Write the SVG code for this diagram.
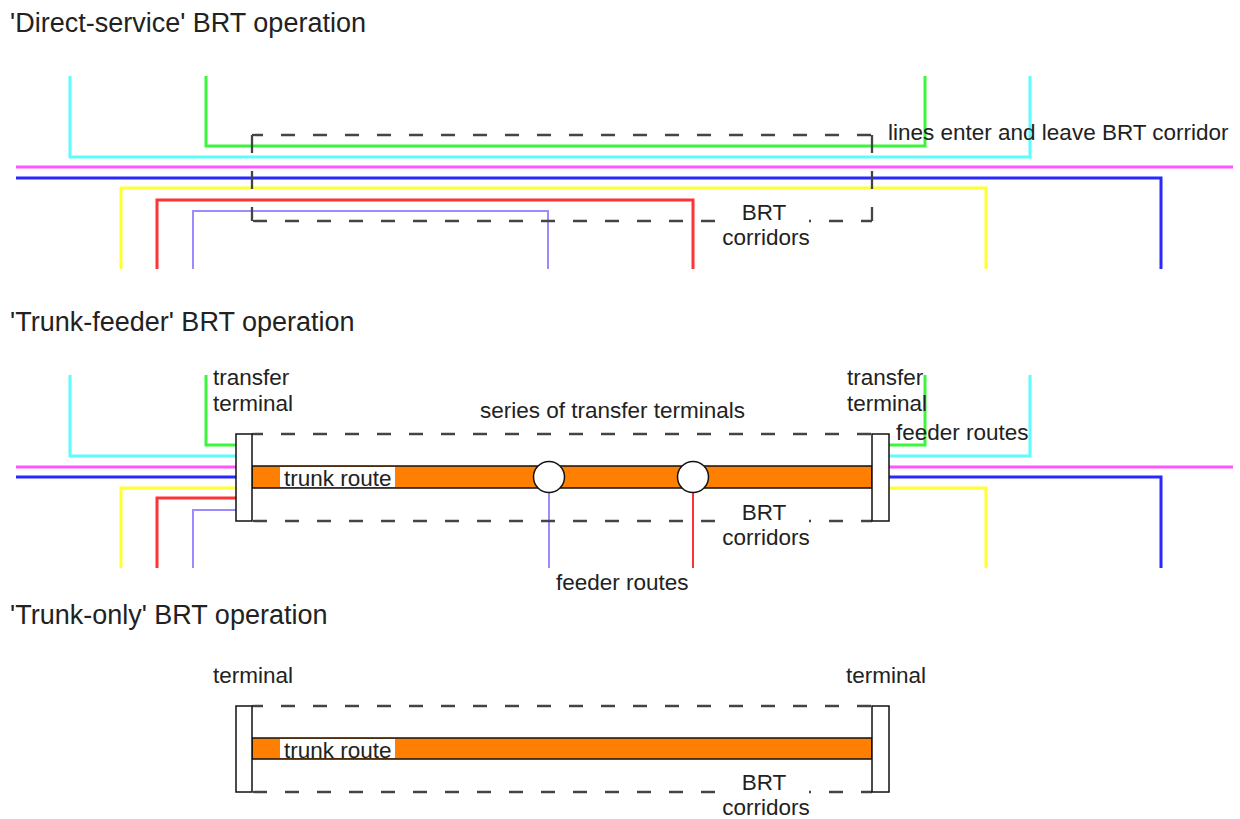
<svg xmlns="http://www.w3.org/2000/svg" width="1240" height="819" viewBox="0 0 1240 819">
<style>
text{font-family:"Liberation Sans",Arial,sans-serif;fill:#222}
.title{font-size:27px}
.lbl{font-size:22.5px}
.mid{text-anchor:middle}
.ln{fill:none;stroke-width:3;stroke-linejoin:miter;stroke-linecap:butt}
.cy{stroke:#5ffcfc}
.gr{stroke:#3cf53c}
.mg{stroke:#ff55ff}
.bl{stroke:#2828ff}
.ye{stroke:#ffff33}
.rd{stroke:#ff3333}
.pu{stroke:#9a8cff;stroke-width:2}
.dash{fill:none;stroke:#444;stroke-width:2.3;stroke-dasharray:14 18}
.trunk{fill:#ff8000;stroke:#111;stroke-width:1.5}
.term{fill:#fff;stroke:#111;stroke-width:1.5}
.stop{fill:#fff;stroke:#111;stroke-width:1.5}
.bg{fill:#fff}
</style>

<!-- Section 1: Direct-service -->
<text class="title" x="10" y="32">'Direct-service' BRT operation</text>
<g id="connectors">
  <g id="s1-lines">
    <path class="ln cy" d="M70,76 V157 H1030 V76"/>
    <path class="ln gr" d="M206,76 V146 H925 V76"/>
    <path class="ln mg" d="M16,167 H1233"/>
    <path class="ln bl" d="M16,178 H1161 V269"/>
    <path class="ln ye" d="M121,269 V188 H986 V269"/>
    <path class="ln rd" d="M157,269 V200 H693 V269"/>
    <path class="ln pu" d="M193,269 V211 H548 V269"/>
  </g>
  <g id="s2-lines">
    <path class="ln cy" d="M70,375 V456 H236"/>
    <path class="ln gr" d="M206,375 V445 H236"/>
    <path class="ln mg" d="M16,467 H236"/>
    <path class="ln bl" d="M16,477 H236"/>
    <path class="ln ye" d="M121,568 V488 H236"/>
    <path class="ln rd" d="M157,568 V498 H236"/>
    <path class="ln pu" d="M193,568 V510 H236"/>
    <path class="ln gr" d="M889,445 H925 V375"/>
    <path class="ln cy" d="M889,456 H1030 V375"/>
    <path class="ln mg" d="M889,467 H1233"/>
    <path class="ln bl" d="M889,477 H1161 V568"/>
    <path class="ln ye" d="M889,488 H986 V568"/>
    <path class="ln pu" d="M549,477 V568"/>
    <path class="ln rd" d="M693,477 V568" style="stroke-width:2"/>
  </g>
</g>

<g id="s1-corridor">
  <path class="dash" d="M252,135 H872" stroke-dashoffset="3"/>
  <path class="dash" d="M252,221 H872" stroke-dashoffset="-1"/>
  <path class="dash" d="M252,135 V221" style="stroke-dasharray:18 18"/>
  <path class="dash" d="M872,135 V221" style="stroke-dasharray:18 18"/>
  <rect class="bg" x="729" y="214" width="80" height="12"/>
  <text class="lbl mid" x="764" y="220">BRT</text>
  <text class="lbl mid" x="766" y="245">corridors</text>
</g>
<text id="s1-note" class="lbl" x="888" y="140">lines enter and leave BRT corridor</text>

<!-- Section 2: Trunk-feeder -->
<text class="title" x="10" y="331">'Trunk-feeder' BRT operation</text>
<g id="s2-corridor">
  <path class="dash" d="M252,434 H872" stroke-dashoffset="3"/>
  <path class="dash" d="M252,521 H872" stroke-dashoffset="-1"/>
  <rect class="bg" x="729" y="514" width="80" height="12"/>
  <text class="lbl mid" x="764" y="520">BRT</text>
  <text class="lbl mid" x="766" y="545">corridors</text>
  <text class="lbl" x="480" y="418">series of transfer terminals</text>
</g>
<g id="s2-trunk">
  <rect class="trunk" x="252" y="466" width="620" height="22"/>
  <rect class="bg" x="280" y="467" width="115" height="20"/>
  <text class="lbl" x="284" y="486">trunk route</text>
</g>
<g id="s2-stop1"><circle class="stop" cx="549" cy="477" r="15.5"/></g>
<g id="s2-stop2"><circle class="stop" cx="693" cy="477" r="15.5"/></g>
<g id="s2-term-left">
  <rect class="term" x="236" y="434" width="16" height="87"/>
  <text class="lbl" x="213" y="385">transfer</text>
  <text class="lbl" x="213" y="411">terminal</text>
</g>
<g id="s2-term-right">
  <rect class="term" x="872" y="434" width="17" height="87"/>
  <text class="lbl" x="847" y="385">transfer</text>
  <text class="lbl" x="847" y="411">terminal</text>
</g>
<text id="s2-feeder-right" class="lbl" x="896" y="440">feeder routes</text>
<text id="s2-feeder-bottom" class="lbl" x="556" y="590">feeder routes</text>

<!-- Section 3: Trunk-only -->
<text class="title" x="10" y="624">'Trunk-only' BRT operation</text>
<g id="s3-corridor">
  <path class="dash" d="M252,706 H872" stroke-dashoffset="3"/>
  <path class="dash" d="M252,792 H872" stroke-dashoffset="-1"/>
  <rect class="bg" x="729" y="785" width="80" height="12"/>
  <text class="lbl mid" x="764" y="790">BRT</text>
  <text class="lbl mid" x="766" y="815">corridors</text>
</g>
<g id="s3-trunk">
  <rect class="trunk" x="252" y="738" width="620" height="21"/>
  <rect class="bg" x="280" y="739" width="115" height="19"/>
  <text class="lbl" x="284" y="758">trunk route</text>
</g>
<g id="s3-term-left">
  <rect class="term" x="236" y="706" width="16" height="86"/>
  <text class="lbl" x="213" y="683">terminal</text>
</g>
<g id="s3-term-right">
  <rect class="term" x="872" y="706" width="17" height="86"/>
  <text class="lbl" x="846" y="683">terminal</text>
</g>
</svg>
